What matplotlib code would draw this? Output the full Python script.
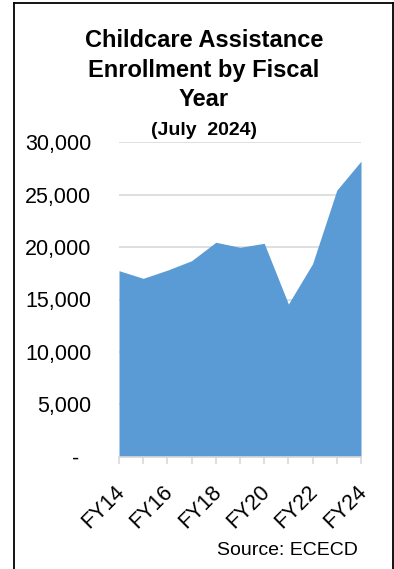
import matplotlib
matplotlib.use("Agg")
import matplotlib.pyplot as plt
from matplotlib.lines import Line2D
from matplotlib.transforms import ScaledTranslation

plt.rcParams['font.family'] = ['Liberation Sans', 'DejaVu Sans']

years = ["FY14", "FY15", "FY16", "FY17", "FY18", "FY19", "FY20", "FY21", "FY22", "FY23", "FY24"]
enrollment = [17750, 17020, 17800, 18700, 20460, 19980, 20360, 14570, 18420, 25430, 28200]
yticks = [0, 5000, 10000, 15000, 20000, 25000, 30000]
ytick_labels = ["-  ", "5,000", "10,000", "15,000", "20,000", "25,000", "30,000"]

W, H = 394, 569
fig = plt.figure(figsize=(W / 100, H / 100), dpi=100)
ax = fig.add_axes([119 / W, 1 - 456.7 / H, (361 - 119) / W, (456.7 - 142.3) / H])

x = list(range(len(years)))
ax.fill_between(x, enrollment, 0, color="#5B9BD5", linewidth=0, zorder=2)

ax.set_xlim(0, len(years) - 1)
ax.set_ylim(0, 30000)
ax.set_yticks(yticks)
ax.set_yticklabels(ytick_labels, fontsize=15.5)
ax.yaxis.grid(True, color="#D9D9D9", linewidth=1.2, zorder=0)
ax.set_axisbelow(True)
ax.tick_params(axis="y", length=0, pad=20)

ax.set_xticks(x)
ax.set_xticklabels([y if i % 2 == 0 else "" for i, y in enumerate(years)],
                   fontsize=15.5, rotation=45, ha="right", rotation_mode="anchor")
ax.tick_params(axis="x", length=5, width=1.2, color="#D9D9D9", pad=13)
shift = ScaledTranslation(-5 / 100, 0, fig.dpi_scale_trans)
for lbl in ax.get_xticklabels():
    lbl.set_transform(lbl.get_transform() + shift)

for s in ["top", "right", "left"]:
    ax.spines[s].set_visible(False)
ax.spines["bottom"].set_color("#D9D9D9")
ax.spines["bottom"].set_linewidth(1.2)

cx = 204 / W
fig.text(cx, 1 - 47 / H, "Childcare Assistance", ha="center", va="baseline", fontsize=17, fontweight="bold")
fig.text(cx, 1 - 77 / H, "Enrollment by Fiscal", ha="center", va="baseline", fontsize=17, fontweight="bold")
fig.text(cx, 1 - 106 / H, "Year", ha="center", va="baseline", fontsize=17, fontweight="bold")
fig.text(cx, 1 - 135 / H, "(July  2024)", ha="center", va="baseline", fontsize=14, fontweight="bold")
fig.text(358 / W, 1 - 555 / H, "Source: ECECD", ha="right", va="baseline", fontsize=14)

# frame around the chart (no bottom edge visible)
lx, rx, ty = 14 / W, 392.5 / W, 1 - 3 / H
fig.add_artist(Line2D([lx, lx], [0, ty], transform=fig.transFigure, color="black", linewidth=1.3))
fig.add_artist(Line2D([lx, rx], [ty, ty], transform=fig.transFigure, color="black", linewidth=1.3))
fig.add_artist(Line2D([rx, rx], [ty, 0], transform=fig.transFigure, color="black", linewidth=1.3))

fig.savefig("out.png", dpi=100)
